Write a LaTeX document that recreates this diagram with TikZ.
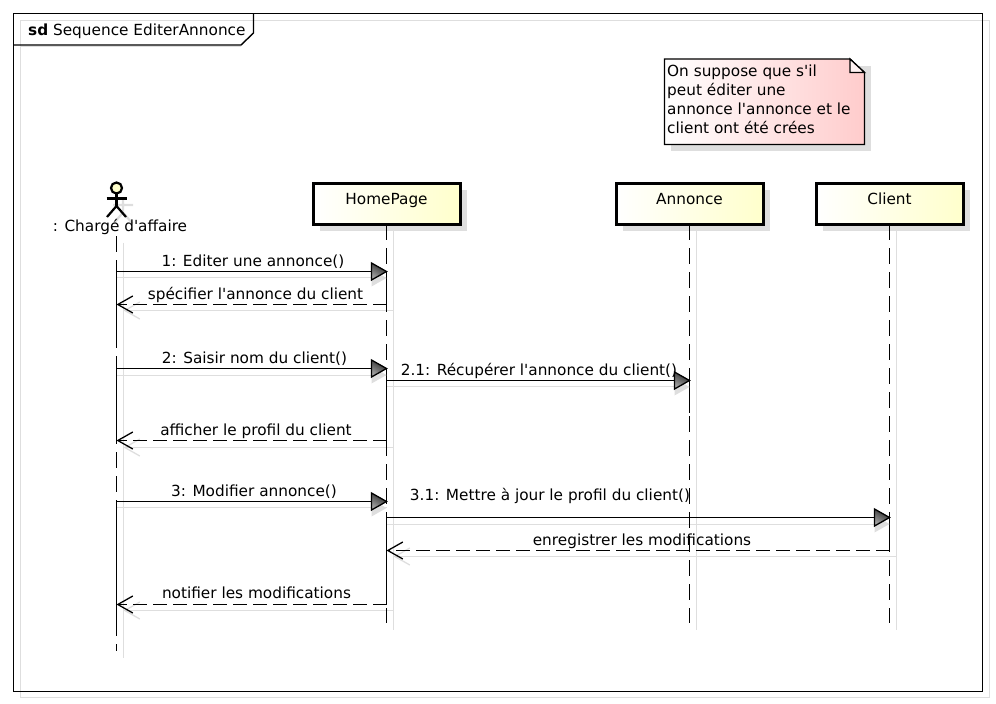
\documentclass[tikz,border=0pt]{standalone}
\usepackage{fontspec}
\newfontfamily\labelfont{DejaVu Sans}
\usepackage{tikz}
\usetikzlibrary{arrows.meta}
\usetikzlibrary{shadows}
\definecolor{shadowgrey}{RGB}{222,222,222}
\definecolor{boxyellow}{RGB}{255,255,204}
\definecolor{notepink}{RGB}{255,204,204}
\tikzset{
    textlabel/.style={anchor=base, inner sep=0pt, font=\labelfont\fontsize{15.3}{18}\selectfont},
    lifebox/.style={draw=black, line width=3pt, left color=white, right color=boxyellow, minimum width=147pt, inner ysep=0pt, text height=20.5pt, text depth=20pt, font=\labelfont\fontsize{15.3}{18}\selectfont, general shadow={fill=shadowgrey, shadow xshift=6.5pt, shadow yshift=-6.5pt}},
    lifeline/.style={black, line width=1.3pt, dash pattern=on 16pt off 8pt},
    solidline/.style={black, line width=1.3pt},
    shadowline/.style={shadowgrey, line width=1.3pt},
    call/.style={black, line width=1.3pt},
    reply/.style={black, line width=1.3pt, dash pattern=on 14pt off 6pt, -{Straight Barb[length=15pt, width=17pt, line width=1.3pt]}},
    replyshadow/.style={shadowgrey, line width=1.3pt, -{Straight Barb[length=15pt, width=17pt, line width=1.3pt]}},
}
\newcommand*{\CallTip}[1]{%
    \fill[shadowgrey, shift={(6.5,6.5)}, shift={(#1)}] (-15,-8.5) -- (0,0) -- (-15,8.5) -- cycle;
    \shadedraw[draw=black, line width=1.3pt, top color=black!85, bottom color=black!35, shading angle=-30, shift={(#1)}] (-15,-8.5) -- (0,0) -- (-15,8.5) -- cycle;
}

\begin{document}
\begin{tikzpicture}[x=1pt,y=-1pt]
    \useasboundingbox (0,0) rectangle (996,704);
    \draw[shadowline] (20.5,20.5) rectangle (989.5,697.5);
    \draw[shadowline] (20.5,46.5) -- (241,46.5);
    \draw[black, line width=1.4pt] (13.5,13.5) rectangle (982.5,691.5);
    \draw[black, line width=1.4pt] (253.5,13.5) -- (253.5,33) -- (241,45) -- (13.5,45);
    \node[textlabel, anchor=base west] (frametitle) at (28,35) {\textbf{sd} Sequence EditerAnnonce};

    \fill[shadowgrey] (670.5,65.5) rectangle (871,151);
    \shadedraw[draw=black, line width=1.3pt, left color=white, right color=notepink] (664.5,59) -- (850,59) -- (864.5,72.5) -- (864.5,144.5) -- (664.5,144.5) -- cycle;
    \filldraw[draw=black, line width=1.3pt, fill=notepink!25] (850,59) -- (850,72.5) -- (864.5,72.5) -- cycle;
    \node[anchor=north west, inner sep=0pt, align=left, font=\labelfont\fontsize{15.3}{19}\selectfont] (note) at (667,65) {On suppose que s'il\\peut éditer une\\annonce l'annonce et le\\client ont été crées};

    \node[lifebox] (home) at (386.5,203.75) {HomePage};
    \node[lifebox] (annonce) at (689.5,203.75) {Annonce};
    \node[lifebox] (client) at (889.5,203.75) {Client};

    \coordinate (actor) at (116.5,188);
    \begin{scope}[shift={(6.5,6.5)}, shadowgrey, line width=2.2pt]
        \draw (actor) circle (5.5);
        \draw (116.5,193.5) -- (116.5,206) (106.5,198.5) -- (126.5,198.5) (107,217) -- (116.5,206) -- (126,217);
    \end{scope}
    \filldraw[draw=black, fill=boxyellow, line width=2.2pt] (actor) circle (5.5);
    \draw[black, line width=2.2pt] (116.5,193.5) -- (116.5,206);
    \draw[black, line width=2.2pt] (106.5,198.5) -- (126.5,198.5);
    \draw[black, line width=2.2pt] (107,217) -- (116.5,206) -- (126,217);
    \node[textlabel] (actorlabel) at (120,231.5) {: Chargé d'affaire};

    \draw[shadowline] (123.5,242.5) -- (123.5,657.5);
    \draw[shadowline] (393.5,230.5) -- (393.5,629.5);
    \draw[shadowline] (696.5,230.5) -- (696.5,629.5);
    \draw[shadowline] (896.5,230.5) -- (896.5,629.5);

    \draw[shadowline] (actor |- 0,277.5) -- (home |- 0,277.5);
    \draw[replyshadow] (393.5,310.5) -- (123.5,310.5);
    \draw[shadowline] (actor |- 0,375.5) -- (home |- 0,375.5);
    \draw[shadowline] (home |- 0,386.5) -- (annonce |- 0,386.5);
    \draw[replyshadow] (393.5,447.5) -- (123.5,447.5);
    \draw[shadowline] (actor |- 0,507.5) -- (home |- 0,507.5);
    \draw[shadowline] (home |- 0,524.5) -- (client |- 0,524.5);
    \draw[replyshadow] (896.5,556.5) -- (393.5,556.5);
    \draw[replyshadow] (393.5,610.5) -- (123.5,610.5);

    \draw[lifeline] (actor |- 0,236) -- (actor |- 0,651);
    \draw[lifeline] (home) ++(0,20.25) -- (home |- 0,623);
    \draw[lifeline] (annonce) ++(0,20.25) -- (annonce |- 0,623);
    \draw[lifeline] (client) ++(0,20.25) -- (client |- 0,623);

    \draw[solidline] (actor |- 0,260) -- (actor |- 0,348);
    \draw[solidline] (actor |- 0,356) -- (actor |- 0,440.5);
    \draw[solidline] (actor |- 0,501.5) -- (actor |- 0,633);
    \draw[solidline] (home |- 0,271.5) -- (home |- 0,304.5);
    \draw[solidline] (home |- 0,380.5) -- (home |- 0,440.5);
    \draw[solidline] (home |- 0,517.5) -- (home |- 0,604.5);
    \draw[solidline] (annonce |- 0,380.5) -- (annonce |- 0,413);
    \draw[solidline] (client |- 0,517.5) -- (client |- 0,550.5);

    \draw[call] (actor |- 0,271.5) -- (372,271.5);
    \CallTip{home |- 0,271.5}
    \draw[reply] (home |- 0,304.5) -- (actor |- 0,304.5);
    \draw[call] (actor |- 0,368.5) -- (372,368.5);
    \CallTip{home |- 0,368.5}
    \draw[call] (home |- 0,380.5) -- (675,380.5);
    \CallTip{annonce |- 0,380.5}
    \draw[reply] (home |- 0,440.5) -- (actor |- 0,440.5);
    \draw[call] (actor |- 0,501.5) -- (372,501.5);
    \CallTip{home |- 0,501.5}
    \draw[call] (home |- 0,517.5) -- (875,517.5);
    \CallTip{client |- 0,517.5}
    \draw[reply] (client |- 0,550.5) -- (home |- 0,550.5);
    \draw[reply] (home |- 0,604.5) -- (actor |- 0,604.5);

    \node[textlabel] (editer) at (253,266) {1: Editer une annonce()};
    \node[textlabel] (specifier) at (255.5,299) {spécifier l'annonce du client};
    \node[textlabel] (saisir) at (254.5,363) {2: Saisir nom du client()};
    \node[textlabel] (recuperer) at (539,375) {2.1: Récupérer l'annonce du client()};
    \node[textlabel] (afficher) at (256,435) {afficher le profil du client};
    \node[textlabel] (modifier) at (254,496) {3: Modifier annonce()};
    \node[textlabel] (mettre) at (550,500.5) {3.1: Mettre à jour le profil du client()};
    \node[textlabel] (enregistrer) at (642,545) {enregistrer les modifications};
    \node[textlabel] (notifier) at (256.5,598.5) {notifier les modifications};
\end{tikzpicture}
\end{document}
